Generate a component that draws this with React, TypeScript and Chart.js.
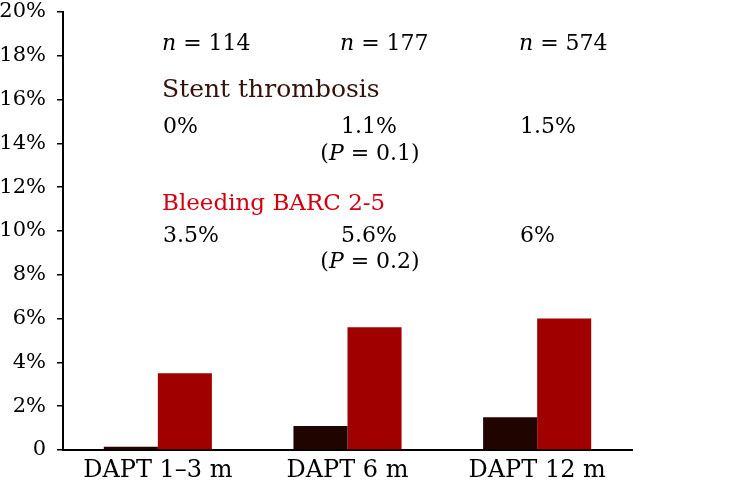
import React, { useEffect, useRef } from "react";
import { Chart, registerables } from "chart.js";

Chart.register(...registerables);

const categories = ["DAPT 1\u20133 m", "DAPT 6 m", "DAPT 12 m"];
const stentThrombosis = [0.15, 1.1, 1.5];
const bleeding = [3.5, 5.6, 6.0];
const nLabels = ["114", "177", "574"];
const stValueLabels = ["0%", "1.1%", "1.5%"];
const bleedValueLabels = ["3.5%", "5.6%", "6%"];
const stPLabel = "0.1";
const bleedPLabel = "0.2";
const yTicks = [0, 2, 4, 6, 8, 10, 12, 14, 16, 18, 20];

const FONT = "'DejaVu Serif', serif";
const DARK = "#200400";
const RED = "#a00000";

type Run = { t: string; i?: boolean };

function drawRuns(ctx: CanvasRenderingContext2D, runs: Run[], x: number, y: number, size: number, color: string, align: "left" | "center") {
  let total = 0;
  const widths = runs.map((r) => {
    ctx.font = `${r.i ? "italic " : ""}${size}px ${FONT}`;
    const w = ctx.measureText(r.t).width;
    total += w;
    return w;
  });
  let cx = align === "center" ? x - total / 2 : x;
  ctx.fillStyle = color;
  ctx.textAlign = "left";
  ctx.textBaseline = "alphabetic";
  runs.forEach((r, k) => {
    ctx.font = `${r.i ? "italic " : ""}${size}px ${FONT}`;
    ctx.fillText(r.t, cx, y);
    cx += widths[k];
  });
}

const annotationPlugin = {
  id: "annotations",
  afterDraw(chart: any) {
    const ctx = chart.ctx as CanvasRenderingContext2D;
    const left = chart.chartArea.left;
    const top = chart.chartArea.top;
    const colX = [left + 99, left + 277, left + 456];
    ctx.save();
    nLabels.forEach((n, i) => {
      drawRuns(ctx, [{ t: "n", i: true }, { t: " = " + n }], colX[i], top + 38, 22, "#000", "left");
    });
    drawRuns(ctx, [{ t: "Stent thrombosis" }], colX[0], top + 85, 25, "#33120a", "left");
    stValueLabels.forEach((s, i) => {
      drawRuns(ctx, [{ t: s }], colX[i] + 1, top + 121, 22, "#000", "left");
    });
    drawRuns(ctx, [{ t: "(" }, { t: "P", i: true }, { t: " = " + stPLabel + ")" }], colX[1] + 30, top + 148, 22, "#000", "center");
    drawRuns(ctx, [{ t: "Bleeding BARC 2-5" }], colX[0], top + 198, 23, "#d00010", "left");
    bleedValueLabels.forEach((s, i) => {
      drawRuns(ctx, [{ t: s }], colX[i] + 1, top + 230, 22, "#000", "left");
    });
    drawRuns(ctx, [{ t: "(" }, { t: "P", i: true }, { t: " = " + bleedPLabel + ")" }], colX[1] + 30, top + 256, 22, "#000", "center");
    ctx.restore();
  },
};

export default function App() {
  const ref = useRef<HTMLCanvasElement | null>(null);
  useEffect(() => {
    if (!ref.current) return;
    const chart = new Chart(ref.current, {
      type: "bar",
      data: {
        labels: categories,
        datasets: [
          { label: "Stent thrombosis", data: stentThrombosis, backgroundColor: DARK, categoryPercentage: 0.57, barPercentage: 1.0 },
          { label: "Bleeding BARC 2-5", data: bleeding, backgroundColor: RED, categoryPercentage: 0.57, barPercentage: 1.0 },
        ],
      },
      options: {
        responsive: false,
        animation: false,
        layout: { padding: { left: 0, top: 12, right: 124, bottom: 0 } },
        plugins: { legend: { display: false }, tooltip: { enabled: false } },
        scales: {
          x: {
            grid: { display: false, drawTicks: false },
            border: { display: true, color: "#000", width: 2 },
            ticks: { color: "#000", font: { family: FONT, size: 24 }, padding: 6 },
            afterFit: (s: any) => { s.height = 48; s.paddingLeft = 0; s.paddingRight = 0; },
          },
          y: {
            min: 0,
            max: 20,
            afterBuildTicks: (s: any) => { s.ticks = yTicks.map((v) => ({ value: v })); },
            grid: { drawOnChartArea: false, drawTicks: true, tickLength: 6, color: "#000", lineWidth: 1.5 },
            border: { display: true, color: "#000", width: 2 },
            ticks: {
              color: "#000",
              font: { family: FONT, size: 21 },
              padding: 11,
              callback: (v: any) => (Number(v) === 0 ? "0" : v + "%"),
            },
            afterFit: (s: any) => { s.width = 63; s.paddingTop = 0; s.paddingBottom = 0; },
          },
        },
      },
      plugins: [annotationPlugin],
    });
    return () => chart.destroy();
  }, []);
  return (
    <div style={{ position: "fixed", left: 0, top: 0, width: 756, height: 498, background: "#fff" }}>
      <canvas ref={ref} width={756} height={498} />
    </div>
  );
}
